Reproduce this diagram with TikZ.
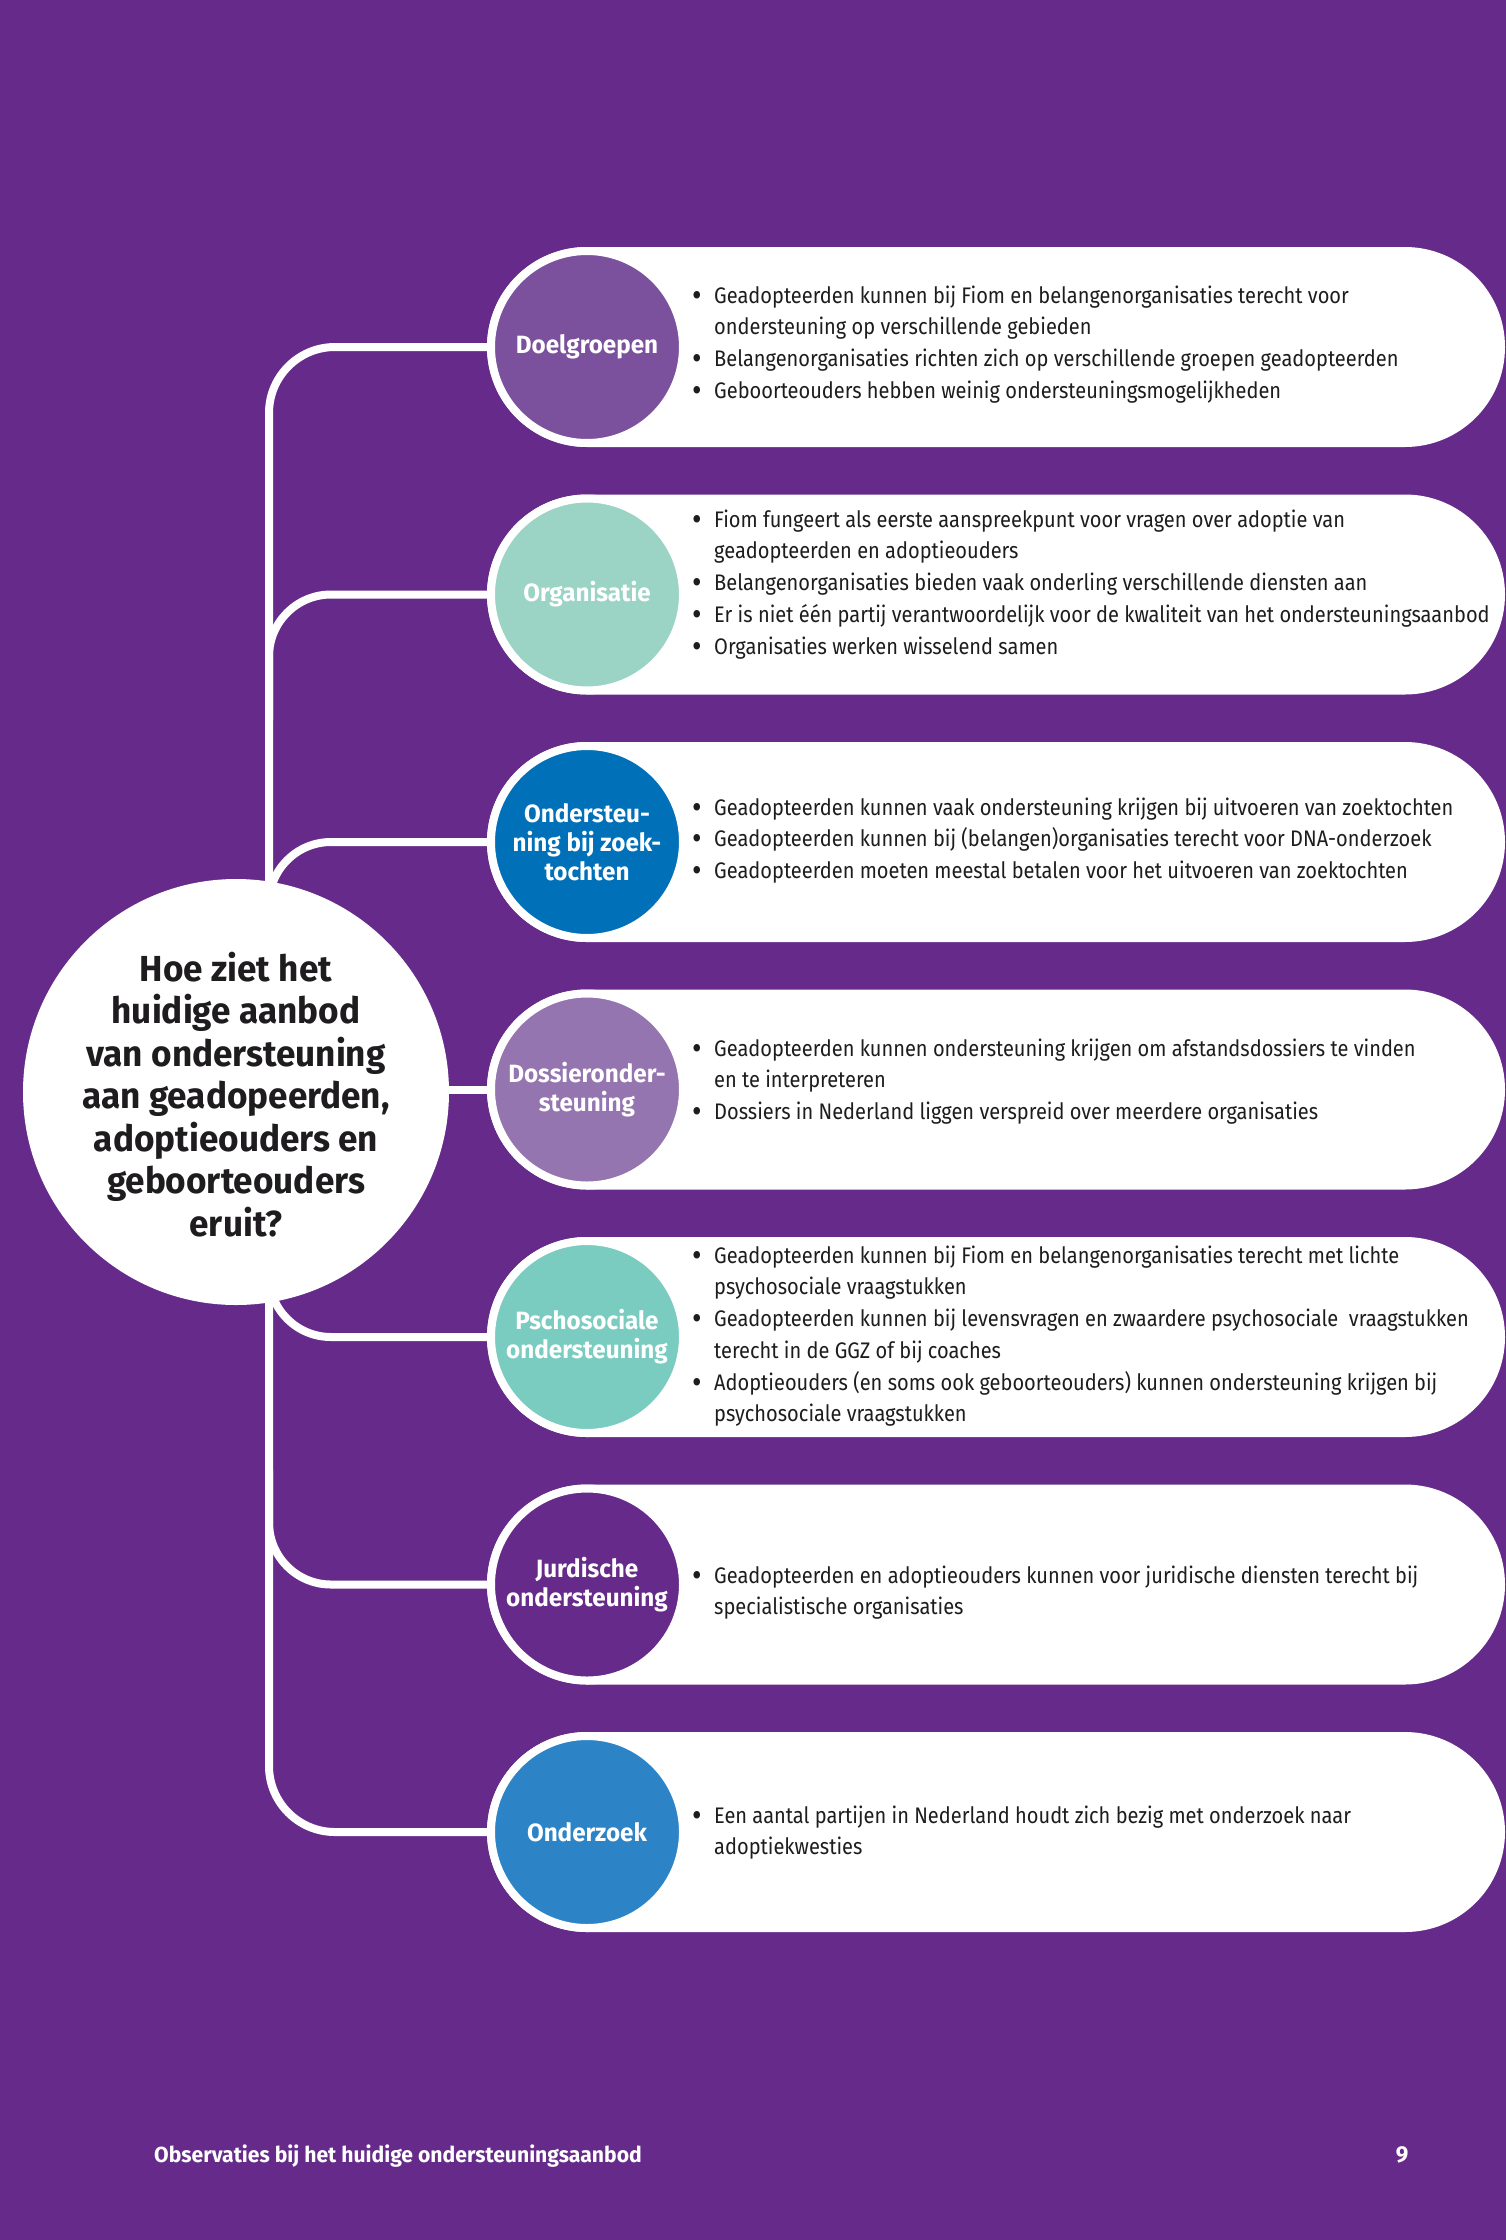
\documentclass[tikz,border=0pt]{standalone}
\usepackage{fontspec}
\setmainfont{Fira Sans}
\newfontfamily\bodyf{Fira Sans}[FakeStretch=0.89]
\newfontfamily\labf{Fira Sans}[FakeStretch=0.97]
\definecolor{bg}{RGB}{102,43,138}
\definecolor{ink}{RGB}{30,28,30}
\definecolor{cA}{RGB}{123,81,158}
\definecolor{cB}{RGB}{155,212,196}
\definecolor{cC}{RGB}{0,112,184}
\definecolor{cD}{RGB}{148,117,176}
\definecolor{cE}{RGB}{122,204,192}
\definecolor{cF}{RGB}{102,43,138}
\definecolor{cG}{RGB}{44,132,199}
\newcommand\bl{\makebox[22pt][l]{\raisebox{-3pt}{\fontsize{33}{33}\selectfont\textbullet}}}
\newcommand\ind{\hspace*{22pt}}
\tikzset{
  bub/.style={circle, minimum size=192pt, inner sep=0pt, draw=white, line width=8pt,
    text=white, align=center, font=\labf\bfseries\fontsize{25}{29}\selectfont},
  txt/.style={anchor=base west, inner sep=0pt, align=left, text=ink,
    font=\bodyf\fontsize{22.5}{31.75}\selectfont},
  link/.style={draw=white, line width=8pt},
  pillshape/.style={fill=white, rounded corners=100pt}
}
\begin{document}
\begin{tikzpicture}[x=1pt,y=-1pt]
\useasboundingbox (0,0) rectangle (1506,2240);
\fill[bg] (0,0) rectangle (1506,2240);
% pills
\foreach \yy in {347,594.5,842,1089.5,1337,1584.5,1832}{
  \fill[pillshape] (487,\yy-100) rectangle (1505,\yy+100);
}
% circles
\node[bub, fill=cA] (c1) at (587,347) {Doelgroepen};
\node[bub, fill=cB] (c2) at (587,594.5) {Organisatie};
\node[bub, fill=cC] (c3) at (587,842) {Ondersteu-\\ning bij zoek-\\tochten};
\node[bub, fill=cD] (c4) at (587,1089.5) {Dossieronder-\\steuning};
\node[bub, fill=cE] (c5) at (587,1337) {Pschosociale\\ondersteuning};
\node[bub, fill=cF] (c6) at (587,1584.5) {Jurdische\\ondersteuning};
\node[bub, fill=cG] (c7) at (587,1832) {Onderzoek};
% tree
\coordinate (t1) at (269,347);
\coordinate (t7) at (269,1832);
\draw[link, rounded corners=66pt] (c1.west) -- (t1) -- (t7) -- (c7.west);
\coordinate (s2) at (269,720);   \coordinate (k2) at (269,594.5);
\coordinate (s3) at (269,960);   \coordinate (k3) at (269,842);
\coordinate (s5) at (269,1230);  \coordinate (k5) at (269,1337);
\coordinate (s6) at (269,1470);  \coordinate (k6) at (269,1584.5);
\draw[link, rounded corners=62pt] (s2) -- (k2) -- (c2.west);
\draw[link, rounded corners=62pt] (s3) -- (k3) -- (c3.west);
\draw[link, rounded corners=62pt] (s5) -- (k5) -- (c5.west);
\draw[link, rounded corners=62pt] (s6) -- (k6) -- (c6.west);
% central question
\node[circle, fill=white, minimum size=426pt, inner sep=0pt] (q) at (236,1092) {};
\draw[link] (q.east |- c4.west) -- (c4.west);
\node[anchor=base, inner sep=0pt, align=center, text=ink,
  font=\labf\bfseries\fontsize{36.2}{42.5}\selectfont] (qt) at (236,1236)
  {Hoe ziet het\\huidige aanbod\\van ondersteuning\\aan geadopeerden,\\adoptieouders en\\geboorteouders\\eruit?};
% texts (anchor = baseline of last line)
\node[txt] (x1) at (692,398.25) {\bl Geadopteerden kunnen bij Fiom en belangenorganisaties terecht voor\\
\ind ondersteuning op verschillende gebieden\\
\bl Belangenorganisaties richten zich op verschillende groepen geadopteerden\\
\bl Geboorteouders hebben weinig ondersteuningsmogelijkheden};
\node[txt] (x2) at (692,654) {\bl Fiom fungeert als eerste aanspreekpunt voor vragen over adoptie van\\
\ind geadopteerden en adoptieouders\\
\bl Belangenorganisaties bieden vaak onderling verschillende diensten aan\\
\bl Er is niet één partij verantwoordelijk voor de kwaliteit van het ondersteuningsaanbod\\
\bl Organisaties werken wisselend samen};
\node[txt] (x3) at (692,878.5) {\bl Geadopteerden kunnen vaak ondersteuning krijgen bij uitvoeren van zoektochten\\
\bl Geadopteerden kunnen bij (belangen)organisaties terecht voor DNA-onderzoek\\
\bl Geadopteerden moeten meestal betalen voor het uitvoeren van zoektochten};
\node[txt] (x4) at (692,1119.5) {\bl Geadopteerden kunnen ondersteuning krijgen om afstandsdossiers te vinden\\
\ind en te interpreteren\\
\bl Dossiers in Nederland liggen verspreid over meerdere organisaties};
\node[txt] (x5) at (692,1421.75) {\bl Geadopteerden kunnen bij Fiom en belangenorganisaties terecht met lichte\\
\ind psychosociale vraagstukken\\
\bl Geadopteerden kunnen bij levensvragen en zwaardere psychosociale\ \ vraagstukken\\
\ind terecht in de GGZ of bij coaches\\
\bl Adoptieouders (en soms ook geboorteouders) kunnen ondersteuning krijgen bij\\
\ind psychosociale vraagstukken};
\node[txt] (x6) at (692,1614.75) {\bl Geadopteerden en adoptieouders kunnen voor juridische diensten terecht bij\\
\ind specialistische organisaties};
\node[txt] (x7) at (692,1854.75) {\bl Een aantal partijen in Nederland houdt zich bezig met onderzoek naar\\
\ind adoptiekwesties};
% footer
\node[anchor=base west, inner sep=0pt, text=white, font=\labf\bfseries\fontsize{21.8}{26}\selectfont]
  (foot) at (154,2162) {Observaties bij het huidige ondersteuningsaanbod};
\node[anchor=base, inner sep=0pt, text=white, font=\labf\bfseries\fontsize{23}{26}\selectfont]
  (pg) at (1402,2162) {9};
\end{tikzpicture}
\end{document}
